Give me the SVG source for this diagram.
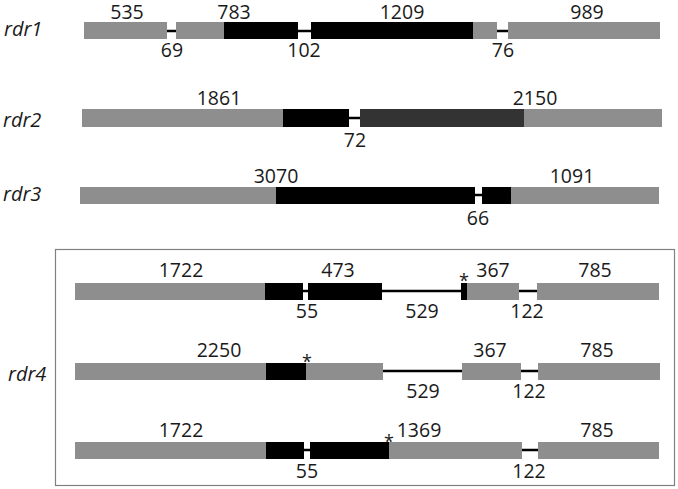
<svg xmlns="http://www.w3.org/2000/svg" width="678" height="489" viewBox="0 0 678 489">
<style>
.g{fill:#8e8e8e}
.b{fill:#000}
.d{fill:#333}
.i{stroke:#000;stroke-width:2.5}
text{font-family:"Open Sans","Liberation Sans",sans-serif;font-size:19.5px;fill:#1a1a1a;text-anchor:middle}
.n{font-style:italic;text-anchor:start;font-size:20px}
.s{font-size:18px}
</style>
<rect width="678" height="489" fill="#fff"/>
<rect x="55.5" y="249.5" width="619" height="236" fill="none" stroke="#808080" stroke-width="1.2"/>
<g id="connectors">
<line class="i" x1="167" y1="31" x2="176" y2="31"/>
<line class="i" x1="298" y1="31" x2="311" y2="31"/>
<line class="i" x1="497" y1="31" x2="508" y2="31"/>
<line class="i" x1="349" y1="118" x2="360" y2="118"/>
<line class="i" x1="475" y1="195" x2="482" y2="195"/>
<line class="i" x1="303" y1="291" x2="308" y2="291"/>
<line class="i" x1="382" y1="291" x2="461" y2="291"/>
<line class="i" x1="519" y1="291" x2="537" y2="291"/>
<line class="i" x1="383" y1="371" x2="462" y2="371"/>
<line class="i" x1="521" y1="371" x2="538" y2="371"/>
<line class="i" x1="304" y1="450" x2="310" y2="450"/>
<line class="i" x1="522" y1="450" x2="538" y2="450"/>
</g>
<g id="rdr1">
<text class="n" x="4" y="36">rdr1</text>
<rect class="g" x="84" y="22" width="83" height="17"/>
<rect class="g" x="176" y="22" width="48" height="17"/>
<rect class="b" x="224" y="22" width="74" height="17"/>
<rect class="b" x="311" y="22" width="162" height="17"/>
<rect class="g" x="473" y="22" width="24" height="17"/>
<rect class="g" x="508" y="22" width="152" height="17"/>
<text x="127" y="19">535</text>
<text x="234" y="19">783</text>
<text x="402" y="19">1209</text>
<text x="587" y="19">989</text>
<text x="172" y="57">69</text>
<text x="304" y="57">102</text>
<text x="503" y="57">76</text>
</g>
<g id="rdr2">
<text class="n" x="3" y="127">rdr2</text>
<rect class="g" x="82" y="109" width="201" height="18"/>
<rect class="b" x="283" y="109" width="66" height="18"/>
<rect class="d" x="360" y="109" width="164" height="18"/>
<rect class="g" x="524" y="109" width="138" height="18"/>
<text x="219" y="105">1861</text>
<text x="535" y="105">2150</text>
<text x="355" y="147">72</text>
</g>
<g id="rdr3">
<text class="n" x="3" y="201">rdr3</text>
<rect class="g" x="80" y="187" width="196" height="17"/>
<rect class="b" x="276" y="187" width="199" height="17"/>
<rect class="b" x="482" y="187" width="29" height="17"/>
<rect class="g" x="511" y="187" width="148" height="17"/>
<text x="276" y="183">3070</text>
<text x="572" y="183">1091</text>
<text x="478" y="225">66</text>
</g>
<g id="rdr4">
<text class="n" x="8" y="381">rdr4</text>
<g id="rdr4-1">
<rect class="g" x="75" y="283" width="190" height="17"/>
<rect class="b" x="265" y="283" width="38" height="17"/>
<rect class="b" x="308" y="283" width="74" height="17"/>
<rect class="b" x="461" y="283" width="6" height="17"/>
<rect class="g" x="467" y="283" width="52" height="17"/>
<rect class="g" x="537" y="283" width="122" height="17"/>
<text x="181" y="277">1722</text>
<text x="338" y="277">473</text>
<text class="s" x="464" y="287">*</text>
<text x="493" y="277">367</text>
<text x="595" y="277">785</text>
<text x="307" y="318">55</text>
<text x="422" y="318">529</text>
<text x="527" y="318">122</text>
</g>
<g id="rdr4-2">
<rect class="g" x="75" y="363" width="191" height="17"/>
<rect class="b" x="266" y="363" width="40" height="17"/>
<rect class="g" x="306" y="363" width="77" height="17"/>
<rect class="g" x="462" y="363" width="59" height="17"/>
<rect class="g" x="538" y="363" width="122" height="17"/>
<text x="219" y="357">2250</text>
<text class="s" x="307" y="368">*</text>
<text x="490" y="357">367</text>
<text x="597" y="357">785</text>
<text x="423" y="398">529</text>
<text x="529" y="398">122</text>
</g>
<g id="rdr4-3">
<rect class="g" x="75" y="442" width="191" height="17"/>
<rect class="b" x="266" y="442" width="38" height="17"/>
<rect class="b" x="310" y="442" width="79" height="17"/>
<rect class="g" x="389" y="442" width="133" height="17"/>
<rect class="g" x="538" y="442" width="121" height="17"/>
<text x="181" y="437">1722</text>
<text class="s" x="389" y="448">*</text>
<text x="419" y="437">1369</text>
<text x="597" y="437">785</text>
<text x="307" y="478">55</text>
<text x="529" y="478">122</text>
</g>
</g>
</svg>
